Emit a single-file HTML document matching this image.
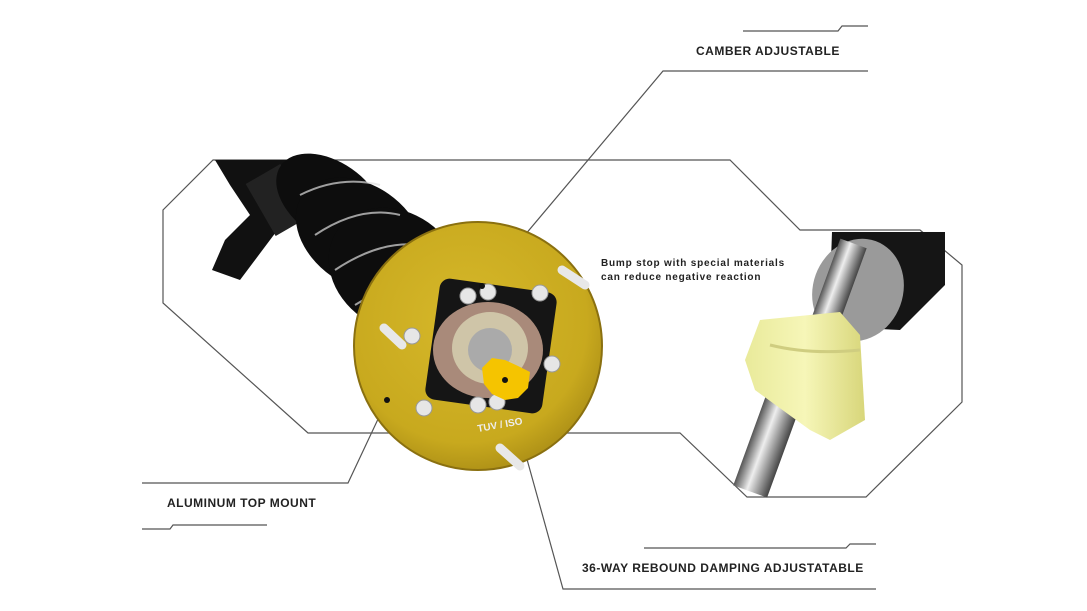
<!DOCTYPE html>
<html><head><style>
html,body{margin:0;padding:0;background:#fff;}
svg{display:block}
text{font-family:"Liberation Sans",sans-serif;}
</style></head><body>
<svg width="1087" height="611" viewBox="0 0 1087 611" xmlns="http://www.w3.org/2000/svg">
<defs>
<radialGradient id="gold" cx="0.45" cy="0.4" r="0.7">
<stop offset="0" stop-color="#d6b82a"/><stop offset="0.7" stop-color="#c8a91e"/><stop offset="1" stop-color="#9c8012"/>
</radialGradient>
<linearGradient id="chrome" x1="0" y1="0" x2="1" y2="0">
<stop offset="0" stop-color="#555"/><stop offset="0.4" stop-color="#eee"/><stop offset="0.7" stop-color="#999"/><stop offset="1" stop-color="#444"/>
</linearGradient>
<linearGradient id="bump" x1="0" y1="0" x2="1" y2="0">
<stop offset="0" stop-color="#e9ea9a"/><stop offset="0.5" stop-color="#f6f6b8"/><stop offset="1" stop-color="#d8d67a"/>
</linearGradient>
</defs>
<g fill="none" stroke="#555" stroke-width="1.2">
<polyline points="743,31 838,31 842,26 868,26"/>
<polyline points="868,71 663,71 482,286"/>
<polyline points="560,433 308,433 163,303 163,210 213,160 730,160 800,230 920,230 962,265 962,402 866,497 747,497 680,433 560,433"/>
<polyline points="142,483 348,483 387,400"/>
<polyline points="142,529 170,529 173,525 267,525"/>
<polyline points="505,380 563,589 876,589"/>
<polyline points="644,548 846,548 850,544 876,544"/>
</g>
<!-- shock body & bracket -->
<path d="M215,160 L290,160 L300,200 L270,240 L240,280 L212,270 L225,240 L250,215 L230,185 Z" fill="#111"/>
<rect x="258" y="170" width="40" height="60" fill="#222" transform="rotate(-30 278 200)"/>
<!-- spring coils -->
<g fill="#0d0d0d">
<ellipse cx="330" cy="200" rx="60" ry="38" transform="rotate(35 330 200)"/>
<ellipse cx="360" cy="235" rx="70" ry="50" transform="rotate(35 360 235)"/>
<ellipse cx="395" cy="270" rx="70" ry="58" transform="rotate(35 395 270)"/>
</g>
<g stroke="#ddd" stroke-width="2" fill="none" opacity="0.7">
<path d="M300,195 Q340,175 380,185"/>
<path d="M315,235 Q360,205 400,215"/>
<path d="M335,270 Q380,240 420,245"/>
<path d="M355,305 Q395,280 430,280"/>
</g>
<!-- disk -->
<ellipse cx="478" cy="346" rx="124" ry="124" fill="url(#gold)"/>
<ellipse cx="478" cy="346" rx="124" ry="124" fill="none" stroke="#8a7010" stroke-width="2"/>
<rect x="432" y="285" width="118" height="122" rx="10" fill="#151515" transform="rotate(8 491 346)"/>
<ellipse cx="488" cy="350" rx="55" ry="48" fill="#a98a7a"/>
<ellipse cx="490" cy="348" rx="38" ry="36" fill="#cfc5a8"/>
<ellipse cx="490" cy="350" rx="22" ry="22" fill="#aaa"/>
<g fill="#e6e6e6" stroke="#999">
<circle cx="468" cy="296" r="8"/><circle cx="488" cy="292" r="8"/>
<circle cx="478" cy="405" r="8"/><circle cx="497" cy="402" r="8"/>
<circle cx="540" cy="293" r="8"/><circle cx="552" cy="364" r="8"/>
<circle cx="424" cy="408" r="8"/><circle cx="412" cy="336" r="8"/>
</g>
<g stroke="#e8e8e8" stroke-width="9" stroke-linecap="round">
<line x1="562" y1="270" x2="585" y2="285"/>
<line x1="384" y1="328" x2="402" y2="345"/>
<line x1="500" y1="448" x2="520" y2="466"/>
</g>
<path d="M482,368 L492,358 L505,360 L518,366 L530,372 L528,388 L518,398 L505,400 L492,394 L484,384 Z" fill="#f5c400"/>
<text x="478" y="432" font-size="10" fill="#eee" font-weight="bold" transform="rotate(-10 478 432)">TUV / ISO</text>
<g fill="#111"><circle cx="482" cy="286" r="3"/><circle cx="387" cy="400" r="3"/><circle cx="505" cy="380" r="3"/></g>
<!-- inset -->
<path d="M832,232 L945,232 L945,285 L900,330 L860,328 L830,290 Z" fill="#151515"/>
<ellipse cx="858" cy="290" rx="45" ry="52" fill="#9a9a9a" transform="rotate(20 858 290)"/>
<rect x="820" y="240" width="28" height="115" fill="url(#chrome)" transform="rotate(20 834 297)"/>
<rect x="752" y="380" width="36" height="115" fill="url(#chrome)" transform="rotate(20 770 437)"/>
<path d="M760,320 L840,312 L860,335 L865,420 L830,440 L810,430 L755,390 L745,360 Z" fill="url(#bump)"/>
<path d="M770,345 Q810,355 860,350" stroke="#cfcd80" stroke-width="3" fill="none"/>
<!-- labels -->
<text x="696" y="55" font-size="12" font-weight="bold" fill="#222" letter-spacing="0.5">CAMBER ADJUSTABLE</text>
<text x="167" y="507" font-size="12" font-weight="bold" fill="#222" letter-spacing="0.5">ALUMINUM TOP MOUNT</text>
<text x="582" y="572" font-size="12" font-weight="bold" fill="#222" letter-spacing="0.5">36-WAY REBOUND DAMPING ADJUSTATABLE</text>
<text x="601" y="266" font-size="10" font-weight="bold" fill="#222" letter-spacing="0.8">Bump stop with special materials</text>
<text x="601" y="280" font-size="10" font-weight="bold" fill="#222" letter-spacing="0.8">can reduce negative reaction</text>
</svg>
</body></html>
